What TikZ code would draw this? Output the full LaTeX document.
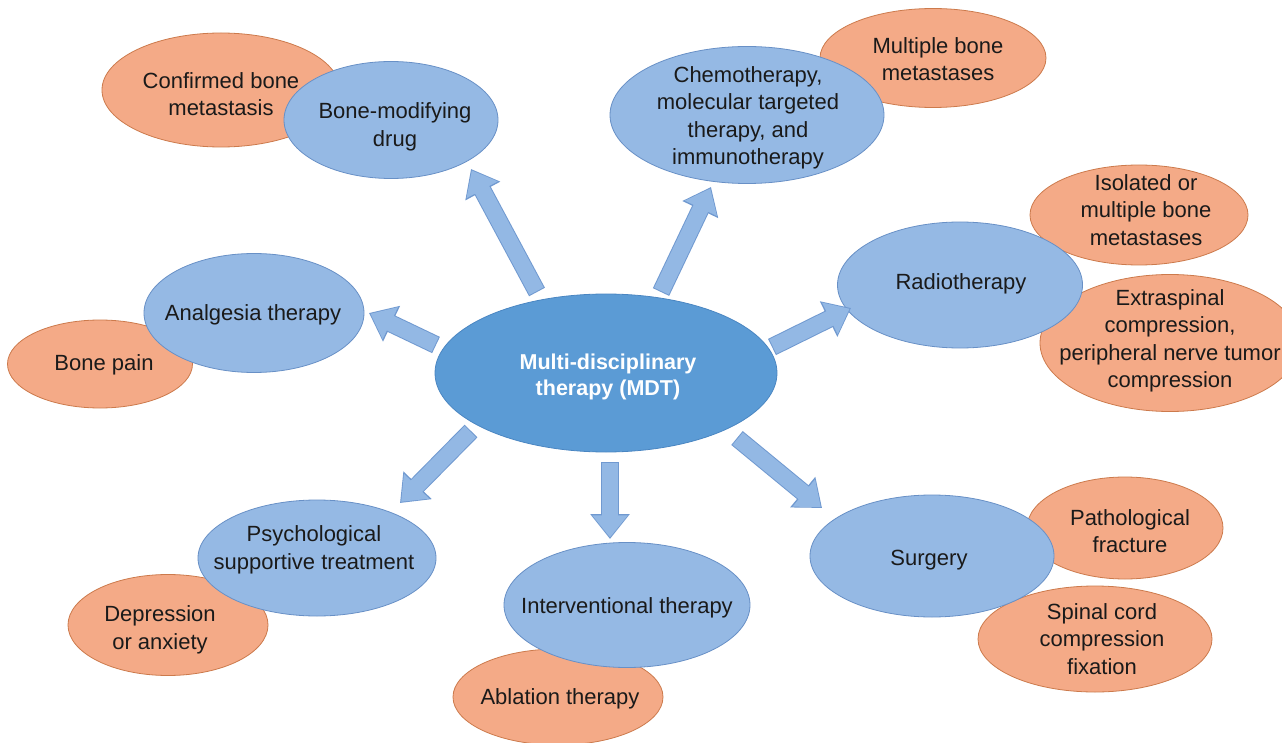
\documentclass[tikz,border=0pt]{standalone}
\usepackage{fontspec}
\setmainfont{Liberation Sans}
\usetikzlibrary{shapes.geometric,arrows.meta}
\definecolor{bluefill}{HTML}{95B9E4}
\definecolor{blueline}{HTML}{6890C6}
\definecolor{mdtfill}{HTML}{5B9BD5}
\definecolor{mdtline}{HTML}{4A86C2}
\definecolor{orfill}{HTML}{F4AA87}
\definecolor{orline}{HTML}{CC7A4C}
\definecolor{arrfill}{HTML}{93B8E4}
\definecolor{arrline}{HTML}{7099D0}
\definecolor{txtcol}{HTML}{1A1A1A}
\tikzset{
  ell/.style={ellipse, inner sep=0pt, line width=0.8pt},
  blueell/.style={ell, fill=bluefill, draw=blueline},
  orell/.style={ell, fill=orfill, draw=orline},
  mdtell/.style={ell, fill=mdtfill, draw=mdtline},
  txt/.style={align=center, text=txtcol, inner sep=0pt, font=\fontsize{22}{27.5}\selectfont},
  mdttxt/.style={align=center, text=white, inner sep=0pt, font=\fontsize{21.5}{26.5}\selectfont\bfseries},
  blockarrowout/.style={draw=arrline, line width=18pt, -{Triangle[length=25pt,width=38pt]}},
  blockarrow/.style={draw=arrfill, line width=16pt, shorten <=1pt, shorten >=1.6pt, -{Triangle[length=22pt,width=34pt]}}
}
\begin{document}
\begin{tikzpicture}[x=1pt,y=-1pt]
\useasboundingbox (0,0) rectangle (1282,743);
\clip (0,0) rectangle (1282,743);
\fill[white] (0,0) rectangle (1282,743);

% orange ellipses (behind)
\node[orell, minimum width=238pt, minimum height=114pt] (confE) at (221,90) {};
\node[orell, minimum width=226pt, minimum height=99pt] (multE) at (933,58) {};
\node[orell, minimum width=218pt, minimum height=100pt] (isoE) at (1139,215) {};
\node[orell, minimum width=260pt, minimum height=137pt] (extraE) at (1170,343) {};
\node[orell, minimum width=185pt, minimum height=88pt] (painE) at (100,364) {};
\node[orell, minimum width=200pt, minimum height=101pt] (deprE) at (168,625) {};
\node[orell, minimum width=210pt, minimum height=96pt] (ablE) at (558,697) {};
\node[orell, minimum width=196pt, minimum height=102pt] (pathE) at (1125,528) {};
\node[orell, minimum width=234pt, minimum height=106pt] (spinE) at (1095,639) {};

% blue ellipses
\node[blueell, minimum width=214pt, minimum height=117pt] (drugE) at (391,120) {};
\node[blueell, minimum width=274pt, minimum height=137pt] (chemoE) at (747,115) {};
\node[blueell, minimum width=245pt, minimum height=126pt] (radioE) at (960,285) {};
\node[blueell, minimum width=220pt, minimum height=119pt] (analgE) at (254,313) {};
\node[blueell, minimum width=238pt, minimum height=116pt] (psychE) at (317,558) {};
\node[blueell, minimum width=246pt, minimum height=125pt] (interE) at (627,605) {};
\node[blueell, minimum width=244pt, minimum height=122pt] (surgE) at (932,556) {};

% central node
\node[mdtell, minimum width=342pt, minimum height=158pt] (mdtE) at (606,373) {};
\node[mdttxt] (mdt) at (608,377) {Multi-disciplinary\\therapy (MDT)};

% texts
\node[txt] (conf) at (221,94) {Confirmed bone\\metastasis};
\node[txt] (mult) at (938,59) {Multiple bone\\metastases};
\node[txt] (iso) at (1146,210) {Isolated or\\multiple bone\\metastases};
\node[txt] (extra) at (1170,341) {Extraspinal\\compression,\\peripheral nerve tumor\\compression};
\node[txt] (pain) at (104,365) {Bone pain};
\node[txt] (depr) at (160,630) {Depression\\or anxiety};
\node[txt] (abl) at (560,699) {Ablation therapy};
\node[txt] (path) at (1130,531) {Pathological\\fracture};
\node[txt] (spin) at (1102,639) {Spinal cord\\compression\\fixation};
\node[txt] (drug) at (395,127) {Bone-modifying\\drug};
\node[txt] (chemo) at (748,118) {Chemotherapy,\\molecular targeted\\therapy, and\\immunotherapy};
\node[txt] (radio) at (961,284) {Radiotherapy};
\node[txt] (analg) at (253,315) {Analgesia therapy};
\node[txt] (psych) at (314,550) {Psychological\\supportive treatment};
\node[txt] (inter) at (627,608) {Interventional therapy};
\node[txt] (surg) at (929,560) {Surgery};

% block arrows
\coordinate (s1) at (537,292); \coordinate (e1) at (471,169);
\coordinate (s2) at (661,292); \coordinate (e2) at (711,187);
\coordinate (s3) at (772,347); \coordinate (e3) at (851,308);
\coordinate (s4) at (436,345); \coordinate (e4) at (369,313);
\coordinate (s5) at (471,431); \coordinate (e5) at (400,503);
\coordinate (s6) at (610,462); \coordinate (e6) at (610,539);
\coordinate (s7) at (737,438); \coordinate (e7) at (822,508);
\foreach \i in {1,...,7}{
  \draw[blockarrowout] (s\i) -- (e\i);
  \draw[blockarrow] (s\i) -- (e\i);
}
\end{tikzpicture}
\end{document}
